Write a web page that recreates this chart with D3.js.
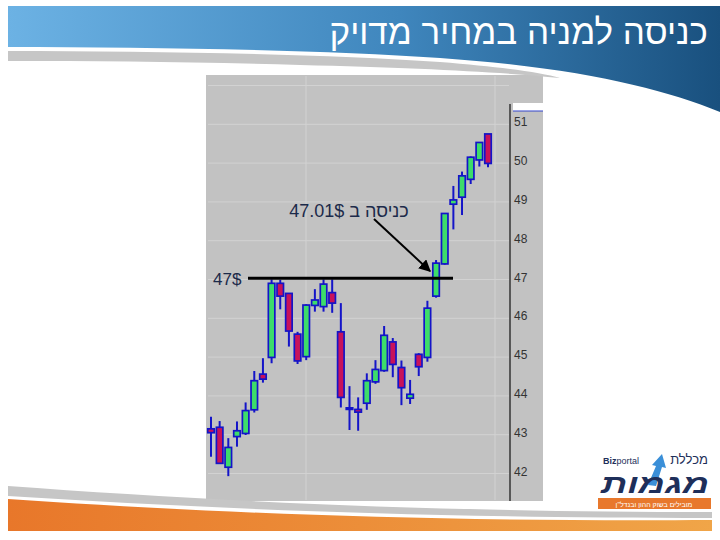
<!DOCTYPE html>
<html><head><meta charset="utf-8">
<script src="https://cdn.jsdelivr.net/npm/d3@7/dist/d3.min.js"></script>
<style>body{margin:0;background:#fff}svg{display:block}</style>
</head><body><svg id="c" width="720" height="540"></svg>
<script>
// ---- data ----
const titleText = "כניסה למניה במחיר מדויק";
const sessions = [1,2,3,4,5,6,7,8,9,10,11,12,13,14,15,16,17,18,19,20,21,22,23,24,25,26,27,28,29,30,31,32,33];
const opens  = [43.10,43.14,42.11,42.90,42.98,43.59,44.51,44.94,46.85,46.59,45.54,44.96,46.28,46.25,46.61,45.60,43.64,43.60,43.76,44.31,44.60,45.34,44.68,43.89,45.02,44.94,46.52,47.35,48.89,49.07,49.53,50.03,50.70];
const highs  = [43.41,43.30,42.86,43.29,43.78,44.59,44.92,46.95,46.94,46.60,45.60,46.31,46.70,46.95,46.95,46.34,44.20,43.91,44.53,44.87,45.75,45.44,44.86,44.36,45.05,46.40,47.45,48.65,49.36,49.73,50.12,50.48,50.70];
const lows   = [42.38,42.20,41.88,42.64,42.94,43.52,44.29,44.79,46.18,45.22,44.77,44.87,46.12,46.12,46.09,43.65,43.07,43.05,43.59,44.26,44.57,44.43,43.71,43.74,44.46,44.83,46.48,47.33,48.24,48.61,49.41,49.86,49.84];
const closes = [43.00,42.21,42.62,43.05,43.57,44.34,44.38,46.85,46.52,45.62,44.85,46.29,46.42,46.83,46.34,43.91,43.62,43.53,44.34,44.63,45.51,44.76,44.16,43.99,44.70,46.21,47.37,48.65,49.00,49.62,50.10,50.48,49.94];
const yTicks = [42,43,44,45,46,47,48,49,50,51];
const levelPrice = 47;
const levelLabel = "47$";
const entryPrice = 47.01;
const entrySession = 27;
const entryLabel = "כניסה ב 47.01$";

const candles = sessions.map((s,i)=>({s, o:opens[i], h:highs[i], l:lows[i], c:closes[i]}));

const svg = d3.select("#c");
const FONT = "'Liberation Sans', Arial, 'DejaVu Sans', sans-serif";
const defs = svg.append("defs");

// ---- chart panel ----
svg.append("rect").attr("x",206).attr("y",75).attr("width",337).attr("height",426).attr("fill","#c2c2c2");

const x = d3.scalePoint().domain(sessions).range([211,488]);
const y = d3.scaleLinear().domain([42,51]).range([471.5,122.3]);

// faint grid
const grid = svg.append("g");
grid.selectAll("line.h").data(yTicks.concat([52])).join("line")
  .attr("x1",208).attr("x2",509)
  .attr("y1",d=>y(d)+2).attr("y2",d=>y(d)+2)
  .attr("stroke","#d2d2d2").attr("stroke-width",1);
grid.selectAll("line.v").data([306,495]).join("line")
  .attr("x1",d=>d).attr("x2",d=>d).attr("y1",76).attr("y2",500)
  .attr("stroke","#d2d2d2").attr("stroke-width",1);

// axis
svg.append("line").attr("x1",510).attr("x2",510).attr("y1",104).attr("y2",501)
  .attr("stroke","#111").attr("stroke-width",1.2);
const ax = svg.append("g").attr("transform","translate(510,0)")
  .call(d3.axisRight(y).tickValues(yTicks).tickSize(0).tickPadding(4).tickFormat(d3.format("d")));
ax.select(".domain").remove();
ax.selectAll("text").attr("font-family",FONT).attr("font-size",12).attr("fill","#333").attr("dy","0.3em");
svg.append("rect").attr("x",513).attr("y",103).attr("width",30).attr("height",8).attr("fill","#fff");
svg.append("line").attr("x1",513).attr("x2",543).attr("y1",111).attr("y2",111).attr("stroke","#3344cc").attr("stroke-width",1);

// candles
const g = svg.append("g");
const bw = 6.5;
g.selectAll("line.w").data(candles).join("line")
  .attr("x1",d=>x(d.s)).attr("x2",d=>x(d.s))
  .attr("y1",d=>y(d.h)).attr("y2",d=>y(d.l))
  .attr("stroke","#1414c8").attr("stroke-width",2);
g.selectAll("rect.b").data(candles).join("rect")
  .attr("x",d=>x(d.s)-bw/2)
  .attr("y",d=>y(Math.max(d.o,d.c)))
  .attr("width",bw)
  .attr("height",d=>Math.max(1.5, Math.abs(y(d.o)-y(d.c))))
  .attr("fill",d=>d.c>=d.o?"#3ddc6a":"#c8125a")
  .attr("stroke","#1414c8").attr("stroke-width",1.7);

// 47$ level line
svg.append("line").attr("x1",248).attr("x2",453)
  .attr("y1",y(levelPrice)+0.8).attr("y2",y(levelPrice)+0.8)
  .attr("stroke","#000").attr("stroke-width",3);
svg.append("text").attr("x",213).attr("y",y(levelPrice)+7)
  .attr("font-family",FONT).attr("font-size",17).attr("fill","#1c2a4a").text(levelLabel);

// annotation
defs.append("marker").attr("id","ah").attr("viewBox","0 0 10 10")
  .attr("refX",9).attr("refY",5).attr("markerWidth",6).attr("markerHeight",6).attr("orient","auto")
  .append("path").attr("d","M0,0 L10,5 L0,10 Z").attr("fill","#000");
svg.append("line").attr("x1",374).attr("y1",219)
  .attr("x2",x(entrySession)-6).attr("y2",y(entryPrice)-6)
  .attr("stroke","#000").attr("stroke-width",2).attr("marker-end","url(#ah)");
svg.append("text").attr("x",349).attr("y",217)
  .attr("direction","rtl").style("unicode-bidi","embed")
  .attr("text-anchor","middle")
  .attr("font-family",FONT).attr("font-size",18).attr("fill","#1c2a4a").text(entryLabel);

// ---- header banner ----
const bg = defs.append("linearGradient").attr("id","bl").attr("x1","0").attr("x2","1").attr("y1","0").attr("y2","0");
bg.append("stop").attr("offset","0").attr("stop-color","#6cb2e4");
bg.append("stop").attr("offset","0.55").attr("stop-color","#3f86bd");
bg.append("stop").attr("offset","1").attr("stop-color","#19507e");
svg.append("path")
  .attr("d","M8,6 H720 V112 C 660,88 580,68 440,58 C 320,50 150,47 8,47 Z")
  .attr("fill","url(#bl)");
svg.append("path")
  .attr("d","M8,51 C 150,51 320,54 440,62 C 500,67 540,72 560,78 C 500,72 420,68 300,65 C 200,62 100,61 8,61 Z")
  .attr("fill","#c6c6c6");
svg.append("text").attr("x",708).attr("y",44).attr("text-anchor","end")
  .attr("font-family",FONT).attr("font-size",35).attr("fill","#fff").text(titleText);

// ---- footer ----
const og = defs.append("linearGradient").attr("id","og").attr("x1","0").attr("x2","1");
og.append("stop").attr("offset","0").attr("stop-color","#e8772a");
og.append("stop").attr("offset","1").attr("stop-color","#f0a548");
svg.append("path").attr("d","M8,486 C 200,500 420,512 712,512 V518 C 420,518 200,508 8,496 Z").attr("fill","#c6c6c6");
svg.append("path").attr("d","M8,499 C 200,512 420,522 712,520 V531 H8 Z").attr("fill","url(#og)");

// logo
svg.append("path").attr("d","M648,485 L656,466 L652,465 L662,454 L666,468 L662,467 L656,486 Z").attr("fill","#3a8fd8");
svg.append("text").attr("x",603).attr("y",464).attr("font-family",FONT).attr("font-size",9).attr("fill","#1e2f5a")
  .html("<tspan font-weight='bold'>Biz</tspan>portal");
svg.append("text").attr("x",708).attr("y",464).attr("text-anchor","end").attr("font-family",FONT).attr("font-size",13).attr("fill","#1e2f5a").text("מכללת");
svg.append("text").attr("x",709).attr("y",493).attr("text-anchor","end").attr("font-family",FONT).attr("font-size",26).attr("font-weight","bold").attr("font-style","italic")
  .attr("textLength",108).attr("lengthAdjust","spacingAndGlyphs").attr("fill","#1e2f5a").text("מגמות");
svg.append("rect").attr("x",598).attr("y",498).attr("width",113).attr("height",11).attr("fill","#e8782c");
svg.append("text").attr("x",654).attr("y",506.5).attr("text-anchor","middle").attr("font-family",FONT).attr("font-size",7).attr("fill","#fff").text("מובילים בשוק ההון ובנדל\"ן");
</script></body></html>
